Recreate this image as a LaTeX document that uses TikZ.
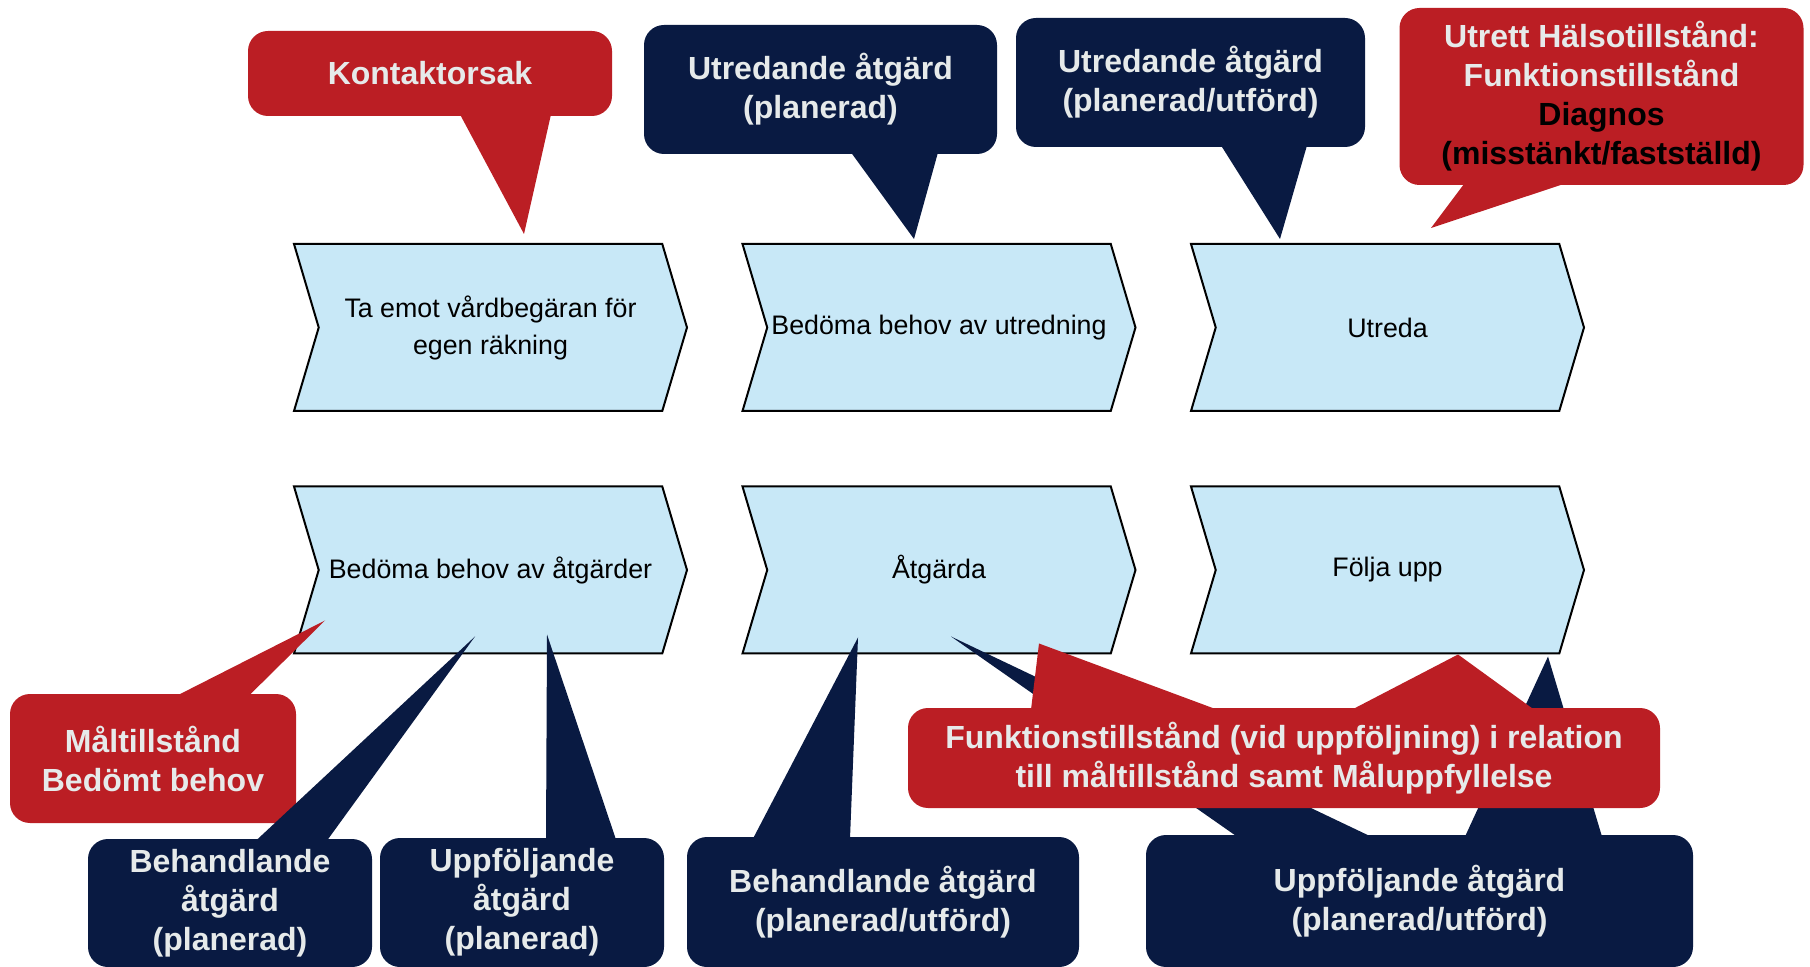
\documentclass[tikz,border=0pt]{standalone}
\usepackage{fontspec}
\setmainfont{Liberation Sans}
\usetikzlibrary{shapes,calc}
\definecolor{chevblue}{RGB}{200,232,247}
\definecolor{callred}{RGB}{187,30,36}
\definecolor{callnavy}{RGB}{9,26,66}
\definecolor{calltext}{RGB}{230,234,234}
\tikzstyle{chevron} = [signal, signal from=west, signal to=east, signal pointer angle=147, draw=black, line width=1pt, fill=chevblue, minimum width=196.5pt, minimum height=83.5pt, inner sep=0pt, align=center, font=\fontsize{13.4}{18.5}\selectfont]
\tikzstyle{redbox} = [rectangle, rounded corners=10pt, fill=callred, text=calltext, align=center, inner sep=0pt, font=\bfseries\fontsize{16}{19.5}\selectfont]
\tikzstyle{navybox} = [redbox, fill=callnavy]
\tikzstyle{redtail} = [fill=callred]
\tikzstyle{navytail} = [fill=callnavy]

\begin{document}
\begin{tikzpicture}[x=0.5pt, y=-0.5pt]
    \useasboundingbox (0,0) rectangle (1810,967);

    \node[chevron] at (490.5,327.5) (mottag) {Ta emot vårdbegäran för\\egen räkning};
    \node[chevron] at (939,327.5) (bedutr) {Bedöma behov av utredning};
    \node[chevron] at (1387.5,327.5) (utreda) {Utreda};
    \node[chevron] at (490.5,570) (bedatg) {Bedöma behov av åtgärder};
    \node[chevron] at (939,570) (atgarda) {Åtgärda};
    \node[chevron] at (1387.5,570) (folja) {Följa upp};

    \coordinate (kontakttip) at ($(mottag.north)+(33.5,-9)$);
    \coordinate (utratgtip) at ($(bedutr.north)+(-25,-4)$);
    \coordinate (utratgbtip) at ($(utreda.north)+(-107.5,-4)$);
    \coordinate (halsatip) at ($(utreda.north)+(43.5,-15)$);
    \coordinate (maltip) at ($(bedatg.south)+(-165.5,-34)$);
    \coordinate (behatgtip) at ($(bedatg.south)+(-15.5,-18)$);
    \coordinate (uppatgtip) at ($(bedatg.south)+(56.5,-20)$);
    \coordinate (behatgbtip) at ($(atgarda.south)+(-81,-17)$);
    \coordinate (uppatgbtip) at ($(atgarda.south)+(12,-18)$);
    \coordinate (foljatip) at ($(folja.south)+(160.5,2)$);
    \coordinate (funktip) at ($(atgarda.south)+(100,-11)$);
    \coordinate (funkbtip) at ($(folja.south)+(70.5,0)$);

    \node[redbox, minimum width=182pt, minimum height=42.5pt] at (430,73.5) (kontakt) {Kontaktorsak};
    \fill[redtail] ($(kontakt.south)+(30,-2)$) -- ($(kontakt.south)+(121,-2)$) -- (kontakttip) -- cycle;

    \node[navybox, minimum width=176.5pt, minimum height=64.5pt] at (820.5,89.5) (utratg) {Utredande åtgärd\\(planerad)};
    \fill[navytail] ($(utratg.south)+(30.5,-2)$) -- ($(utratg.south)+(117.5,-2)$) -- (utratgtip) -- cycle;

    \node[navybox, minimum width=174.5pt, minimum height=64.5pt] at (1190.5,82.5) (utratgb) {Utredande åtgärd\\(planerad/utförd)};
    \fill[navytail] ($(utratgb.south)+(30.5,-2)$) -- ($(utratgb.south)+(116.5,-2)$) -- (utratgbtip) -- cycle;

    \node[redbox, minimum width=202pt, minimum height=88.5pt] at (1601.5,96.5) (halsa) {Utrett Hälsotillstånd:\\Funktionstillstånd\\\textcolor{black}{Diagnos}\\\textcolor{black}{(misstänkt/fastställd)}};
    \fill[redtail] ($(halsa.south)+(-137,-2)$) -- ($(halsa.south)+(-36,-2)$) -- (halsatip) -- cycle;

    \node[redbox, minimum width=143pt, minimum height=64.5pt] at (153,758.5) (mal) {Måltillstånd\\Bedömt behov};
    \fill[redtail] ($(mal.north)+(24,2)$) -- ($(mal.north)+(96,2)$) -- (maltip) -- cycle;

    \node[navybox, minimum width=142pt, minimum height=64pt] at (230,903) (behatg) {Behandlande\\åtgärd\\(planerad)};
    \fill[navytail] ($(behatg.north)+(26,2)$) -- ($(behatg.north)+(97,2)$) -- (behatgtip) -- cycle;

    \node[navybox, minimum width=142pt, minimum height=64.5pt] at (522,902.5) (uppatg) {Uppföljande\\åtgärd\\(planerad)};
    \fill[navytail] ($(uppatg.north)+(24,2)$) -- ($(uppatg.north)+(94,2)$) -- (uppatgtip) -- cycle;

    \node[navybox, minimum width=196pt, minimum height=65pt] at (883,902) (behatgb) {Behandlande åtgärd\\(planerad/utförd)};
    \fill[navytail] ($(behatgb.north)+(-130,2)$) -- ($(behatgb.north)+(-33,2)$) -- (behatgbtip) -- cycle;

    \node[navybox, minimum width=273.5pt, minimum height=66pt] at (1419.5,901) (uppatgb) {Uppföljande åtgärd\\(planerad/utförd)};
    \fill[navytail] ($(uppatgb.north)+(-182.5,2)$) -- ($(uppatgb.north)+(-48.5,2)$) -- (uppatgbtip) -- cycle;
    \fill[navytail] ($(uppatgb.north)+(45.5,2)$) -- ($(uppatgb.north)+(182.5,2)$) -- (foljatip) -- cycle;

    \node[redbox, minimum width=376pt, minimum height=50pt] at (1284,758) (funk) {Funktionstillstånd (vid uppföljning) i relation\\till måltillstånd samt Måluppfyllelse};
    \fill[redtail] ($(funk.north)+(-253,2)$) -- ($(funk.north)+(-67,2)$) -- (funktip) -- cycle;
    \fill[redtail] ($(funk.north)+(68,2)$) -- ($(funk.north)+(250,2)$) -- (funkbtip) -- cycle;
\end{tikzpicture}
\end{document}
